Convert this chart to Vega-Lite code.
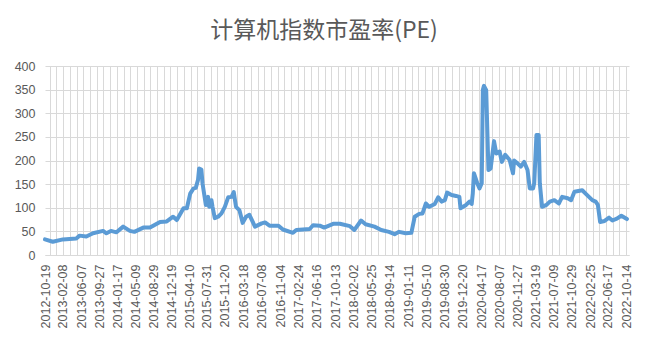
{
  "$schema": "https://vega.github.io/schema/vega-lite/v6.json",
  "width": 584,
  "height": 189,
  "autosize": "none",
  "padding": {"left": 45, "top": 66, "right": 19, "bottom": 96},
  "background": "white",
  "title": {
    "text": "计算机指数市盈率(PE)",
    "font": "Noto Sans CJK SC",
    "fontSize": 23,
    "fontWeight": "normal",
    "color": "#595959",
    "anchor": "middle",
    "dx": -13,
    "offset": 17
  },
  "config": {
    "view": {"stroke": null},
    "axis": {
      "labelFont": "Liberation Sans",
      "labelFontSize": 12.5,
      "labelColor": "#595959",
      "gridColor": "#D9D9D9",
      "gridWidth": 1,
      "domainColor": "#D9D9D9",
      "ticks": false,
      "title": null
    }
  },
  "data": {
    "values": [
      {"date": "2012-10-19", "pe": 33},
      {"date": "2012-12-07", "pe": 28},
      {"date": "2013-02-08", "pe": 33},
      {"date": "2013-05-03", "pe": 35},
      {"date": "2013-05-24", "pe": 41},
      {"date": "2013-07-05", "pe": 39},
      {"date": "2013-08-16", "pe": 46},
      {"date": "2013-10-18", "pe": 51},
      {"date": "2013-11-08", "pe": 46},
      {"date": "2013-12-06", "pe": 51},
      {"date": "2014-01-10", "pe": 48},
      {"date": "2014-02-21", "pe": 60},
      {"date": "2014-04-04", "pe": 51},
      {"date": "2014-05-02", "pe": 49},
      {"date": "2014-06-27", "pe": 58},
      {"date": "2014-08-08", "pe": 58},
      {"date": "2014-10-10", "pe": 70},
      {"date": "2014-11-21", "pe": 71},
      {"date": "2014-12-31", "pe": 81},
      {"date": "2015-01-23", "pe": 74},
      {"date": "2015-03-06", "pe": 99},
      {"date": "2015-03-27", "pe": 99},
      {"date": "2015-04-17", "pe": 130},
      {"date": "2015-05-08", "pe": 141},
      {"date": "2015-05-22", "pe": 142},
      {"date": "2015-06-05", "pe": 159},
      {"date": "2015-06-12", "pe": 183},
      {"date": "2015-06-26", "pe": 181},
      {"date": "2015-07-03", "pe": 152},
      {"date": "2015-07-24", "pe": 106},
      {"date": "2015-08-07", "pe": 123},
      {"date": "2015-08-14", "pe": 102},
      {"date": "2015-08-28", "pe": 116},
      {"date": "2015-09-04", "pe": 102},
      {"date": "2015-09-18", "pe": 78},
      {"date": "2015-10-09", "pe": 81},
      {"date": "2015-10-30", "pe": 88},
      {"date": "2015-11-20", "pe": 102},
      {"date": "2015-12-11", "pe": 122},
      {"date": "2016-01-01", "pe": 123},
      {"date": "2016-01-15", "pe": 133},
      {"date": "2016-01-29", "pe": 102},
      {"date": "2016-02-19", "pe": 95},
      {"date": "2016-03-11", "pe": 68},
      {"date": "2016-04-01", "pe": 81},
      {"date": "2016-04-22", "pe": 85},
      {"date": "2016-05-27", "pe": 60},
      {"date": "2016-07-08", "pe": 67},
      {"date": "2016-07-29", "pe": 69},
      {"date": "2016-08-26", "pe": 62},
      {"date": "2016-10-21", "pe": 62},
      {"date": "2016-11-18", "pe": 54},
      {"date": "2017-01-20", "pe": 47},
      {"date": "2017-02-10", "pe": 53},
      {"date": "2017-05-05", "pe": 55},
      {"date": "2017-05-26", "pe": 63},
      {"date": "2017-07-07", "pe": 62},
      {"date": "2017-08-04", "pe": 58},
      {"date": "2017-09-29", "pe": 66},
      {"date": "2017-11-10", "pe": 66},
      {"date": "2018-01-12", "pe": 61},
      {"date": "2018-02-09", "pe": 53},
      {"date": "2018-03-23", "pe": 73},
      {"date": "2018-04-20", "pe": 65},
      {"date": "2018-06-15", "pe": 60},
      {"date": "2018-07-27", "pe": 53},
      {"date": "2018-09-14", "pe": 49},
      {"date": "2018-10-19", "pe": 44},
      {"date": "2018-11-16", "pe": 49},
      {"date": "2018-12-28", "pe": 46},
      {"date": "2019-02-01", "pe": 47},
      {"date": "2019-02-22", "pe": 81},
      {"date": "2019-03-22", "pe": 87},
      {"date": "2019-04-12", "pe": 88},
      {"date": "2019-05-03", "pe": 109},
      {"date": "2019-05-24", "pe": 102},
      {"date": "2019-06-28", "pe": 108},
      {"date": "2019-07-19", "pe": 122},
      {"date": "2019-08-09", "pe": 113},
      {"date": "2019-08-30", "pe": 116},
      {"date": "2019-09-13", "pe": 132},
      {"date": "2019-10-11", "pe": 127},
      {"date": "2019-11-08", "pe": 125},
      {"date": "2019-11-29", "pe": 123},
      {"date": "2019-12-06", "pe": 99},
      {"date": "2020-01-10", "pe": 106},
      {"date": "2020-01-31", "pe": 113},
      {"date": "2020-02-14", "pe": 108},
      {"date": "2020-02-21", "pe": 130},
      {"date": "2020-02-28", "pe": 173},
      {"date": "2020-03-20", "pe": 152},
      {"date": "2020-04-03", "pe": 141},
      {"date": "2020-04-17", "pe": 152},
      {"date": "2020-04-24", "pe": 349},
      {"date": "2020-05-01", "pe": 358},
      {"date": "2020-05-15", "pe": 349},
      {"date": "2020-05-29", "pe": 180},
      {"date": "2020-06-12", "pe": 183},
      {"date": "2020-07-03", "pe": 241},
      {"date": "2020-07-17", "pe": 215},
      {"date": "2020-08-07", "pe": 219},
      {"date": "2020-08-21", "pe": 197},
      {"date": "2020-09-11", "pe": 212},
      {"date": "2020-10-09", "pe": 201},
      {"date": "2020-10-30", "pe": 173},
      {"date": "2020-11-06", "pe": 200},
      {"date": "2020-11-27", "pe": 194},
      {"date": "2020-12-18", "pe": 187},
      {"date": "2021-01-08", "pe": 197},
      {"date": "2021-01-29", "pe": 180},
      {"date": "2021-02-12", "pe": 141},
      {"date": "2021-03-05", "pe": 141},
      {"date": "2021-03-12", "pe": 152},
      {"date": "2021-03-26", "pe": 254},
      {"date": "2021-04-09", "pe": 254},
      {"date": "2021-04-16", "pe": 152},
      {"date": "2021-04-30", "pe": 102},
      {"date": "2021-05-28", "pe": 106},
      {"date": "2021-06-18", "pe": 113},
      {"date": "2021-07-16", "pe": 116},
      {"date": "2021-08-13", "pe": 109},
      {"date": "2021-09-03", "pe": 123},
      {"date": "2021-10-08", "pe": 120},
      {"date": "2021-10-29", "pe": 116},
      {"date": "2021-11-19", "pe": 134},
      {"date": "2022-01-07", "pe": 137},
      {"date": "2022-01-28", "pe": 130},
      {"date": "2022-02-18", "pe": 123},
      {"date": "2022-03-11", "pe": 116},
      {"date": "2022-04-01", "pe": 113},
      {"date": "2022-04-15", "pe": 106},
      {"date": "2022-04-29", "pe": 70},
      {"date": "2022-05-27", "pe": 72},
      {"date": "2022-06-24", "pe": 79},
      {"date": "2022-07-15", "pe": 73},
      {"date": "2022-08-12", "pe": 77},
      {"date": "2022-09-09", "pe": 83},
      {"date": "2022-10-14", "pe": 76}
    ]
  },
  "layer": [
    {
      "mark": {"type": "line", "strokeOpacity": 0},
      "encoding": {
        "x": {
          "field": "date",
          "type": "temporal",
          "scale": {
            "type": "utc",
            "domain": [
              {"year": 2012, "month": 10, "date": 19, "utc": true},
              {"year": 2022, "month": 10, "date": 27, "utc": true}
            ]
          },
          "axis": {
            "orient": "top",
            "grid": true,
            "labels": false,
            "domain": false,
            "ticks": false,
            "tickCount": {"interval": "week", "step": 6}
          }
        },
        "y": {
          "field": "pe",
          "type": "quantitative",
          "scale": {"domain": [0, 400]},
          "axis": null
        }
      }
    },
    {
      "mark": {
        "type": "line",
        "color": "#5B9BD5",
        "strokeWidth": 4,
        "strokeJoin": "round",
        "strokeCap": "round"
      },
      "encoding": {
        "x": {
          "field": "date",
          "type": "temporal",
          "axis": {
            "grid": false,
            "domain": true,
            "labelAngle": -90,
            "labelPadding": 9,
            "format": "%Y-%m-%d",
            "labelOverlap": false,
            "labelBound": false,
            "labelFlush": false,
            "values": [
              {"year": 2012, "month": 10, "date": 19, "utc": true},
              {"year": 2013, "month": 2, "date": 8, "utc": true},
              {"year": 2013, "month": 6, "date": 7, "utc": true},
              {"year": 2013, "month": 9, "date": 27, "utc": true},
              {"year": 2014, "month": 1, "date": 17, "utc": true},
              {"year": 2014, "month": 5, "date": 9, "utc": true},
              {"year": 2014, "month": 8, "date": 29, "utc": true},
              {"year": 2014, "month": 12, "date": 19, "utc": true},
              {"year": 2015, "month": 4, "date": 10, "utc": true},
              {"year": 2015, "month": 7, "date": 31, "utc": true},
              {"year": 2015, "month": 11, "date": 20, "utc": true},
              {"year": 2016, "month": 3, "date": 18, "utc": true},
              {"year": 2016, "month": 7, "date": 8, "utc": true},
              {"year": 2016, "month": 11, "date": 4, "utc": true},
              {"year": 2017, "month": 2, "date": 24, "utc": true},
              {"year": 2017, "month": 6, "date": 16, "utc": true},
              {"year": 2017, "month": 10, "date": 13, "utc": true},
              {"year": 2018, "month": 2, "date": 2, "utc": true},
              {"year": 2018, "month": 5, "date": 25, "utc": true},
              {"year": 2018, "month": 9, "date": 14, "utc": true},
              {"year": 2019, "month": 1, "date": 11, "utc": true},
              {"year": 2019, "month": 5, "date": 10, "utc": true},
              {"year": 2019, "month": 8, "date": 30, "utc": true},
              {"year": 2019, "month": 12, "date": 20, "utc": true},
              {"year": 2020, "month": 4, "date": 17, "utc": true},
              {"year": 2020, "month": 8, "date": 7, "utc": true},
              {"year": 2020, "month": 11, "date": 27, "utc": true},
              {"year": 2021, "month": 3, "date": 19, "utc": true},
              {"year": 2021, "month": 7, "date": 9, "utc": true},
              {"year": 2021, "month": 10, "date": 29, "utc": true},
              {"year": 2022, "month": 2, "date": 25, "utc": true},
              {"year": 2022, "month": 6, "date": 17, "utc": true},
              {"year": 2022, "month": 10, "date": 14, "utc": true}
            ]
          }
        },
        "y": {
          "field": "pe",
          "type": "quantitative",
          "scale": {"domain": [0, 400]},
          "axis": {
            "values": [0, 50, 100, 150, 200, 250, 300, 350, 400],
            "grid": true,
            "domain": false,
            "labelPadding": 10
          }
        }
      }
    }
  ],
  "resolve": {"axis": {"x": "independent", "y": "independent"}}
}
